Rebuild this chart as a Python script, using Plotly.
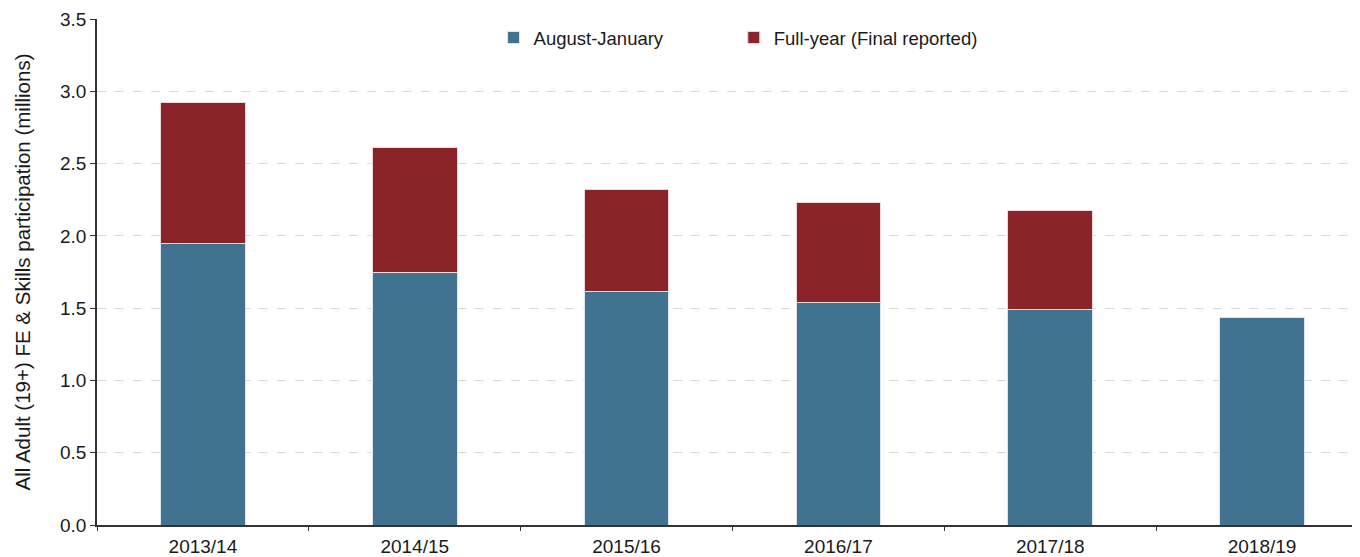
import plotly.graph_objects as go

# === Data (millions) ===
years = ["2013/14", "2014/15", "2015/16", "2016/17", "2017/18", "2018/19"]
aug_jan = [1.944, 1.750, 1.612, 1.536, 1.494, 1.434]
full_year_total = [2.924, 2.612, 2.324, 2.234, 2.172, None]

# red segment is the remainder on top of Aug-Jan
full_year_extra = [t - a if t is not None else None for t, a in zip(full_year_total, aug_jan)]

BLUE = "#41728f"
RED = "#8a2429"

fig = go.Figure()
fig.add_trace(go.Bar(
    x=years, y=aug_jan, name="August-January", legend="legend",
    marker=dict(color=BLUE, line=dict(color="#dde6ee", width=1)),
))
fig.add_trace(go.Bar(
    x=years, y=full_year_extra, name="Full-year (Final reported)", legend="legend2",
    marker=dict(color=RED, line=dict(color="#eadada", width=1)),
))

font = "Liberation Sans, Arial, sans-serif"
legend_style = dict(
    orientation="h", yanchor="top", xanchor="left", y=1.0,
    font=dict(size=18.5, color="#1a1a1a"),
    bgcolor="rgba(0,0,0,0)", itemclick=False,
)

fig.update_layout(
    barmode="stack",
    bargap=0.6,
    width=1360, height=557,
    margin=dict(l=89, r=0, t=11, b=40),
    plot_bgcolor="white",
    paper_bgcolor="white",
    font=dict(family=font, size=19, color="#1a1a1a"),
    showlegend=True,
    legend=dict(x=0.312, **legend_style),
    legend2=dict(x=0.501, **legend_style),
    xaxis=dict(
        type="category", tickson="boundaries", ticks="outside", ticklen=4,
        tickcolor="#333333", showline=True, linecolor="#333333", linewidth=1.5,
        showgrid=False, tickfont=dict(size=19), ticklabelstandoff=3,
    ),
    yaxis=dict(
        range=[0, 3.5], dtick=0.5, tickformat=".1f",
        ticks="outside", ticklen=5, tickcolor="#333333",
        showline=True, linecolor="#333333", linewidth=1.5,
        showgrid=True, gridcolor="#d9d9d9", griddash="dash", gridwidth=1,
        zeroline=False, tickfont=dict(size=19),
        title=dict(text="All Adult (19+) FE & Skills participation (millions)",
                   font=dict(size=20.5), standoff=24),
    ),
)

fig.write_html("out.html")
